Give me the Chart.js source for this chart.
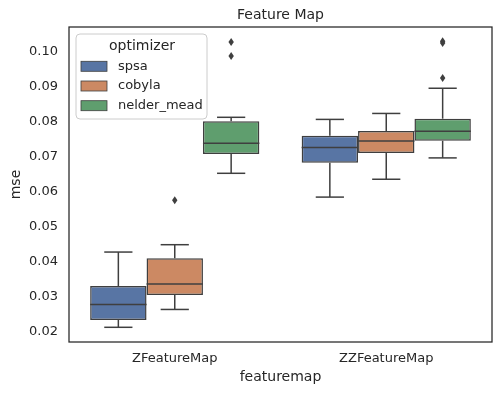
<!DOCTYPE html>
<html>
<head>
<meta charset="utf-8">
<script src="https://cdn.jsdelivr.net/npm/chart.js@4/dist/chart.umd.min.js"></script>
<style>
  html, body { margin: 0; padding: 0; background: #fff; }
  #wrap { width: 500px; height: 395px; }
</style>
</head>
<body>
<div id="wrap"><canvas id="chart" width="500" height="395"></canvas></div>
<script>
const categories = ["ZFeatureMap", "ZZFeatureMap"];
const optimizers = ["spsa", "cobyla", "nelder_mead"];
const colors = ["#5875a4", "#cc8963", "#5f9e6e"];
const yTicks = [0.02, 0.03, 0.04, 0.05, 0.06, 0.07, 0.08, 0.09, 0.10];

// [lower whisker, q1, median, q3, upper whisker] per category
const spsaStats = [[0.0211, 0.0232, 0.0276, 0.0329, 0.0426], [0.0583, 0.0681, 0.0725, 0.0758, 0.0805]];
const cobylaStats = [[0.0262, 0.0303, 0.0335, 0.0408, 0.0447], [0.0634, 0.0709, 0.0743, 0.0772, 0.0822]];
const nelderStats = [[0.0651, 0.0706, 0.0737, 0.0800, 0.0811], [0.0695, 0.0744, 0.0771, 0.0807, 0.0894]];
const spsaOutliers = [[], []];
const cobylaOutliers = [[0.0574], []];
const nelderOutliers = [[0.1026, 0.0986], [0.1028, 0.1023, 0.0923]];

const allStats = [spsaStats, cobylaStats, nelderStats];
const allOutliers = [spsaOutliers, cobylaOutliers, nelderOutliers];
const lineColor = "#3f3f3f";
const font = "DejaVu Sans";

const boxPlugin = {
  id: "boxExtras",
  afterDatasetsDraw(chart) {
    const ctx = chart.ctx;
    const y = chart.scales.y;
    const area = chart.chartArea;
    ctx.save();
    ctx.strokeStyle = lineColor;
    ctx.fillStyle = lineColor;
    ctx.lineWidth = 1.5;
    allStats.forEach((stats, d) => {
      const meta = chart.getDatasetMeta(d);
      meta.data.forEach((bar, i) => {
        const [lo, q1, med, q3, hi] = stats[i];
        const half = bar.width / 2;
        const cap = bar.width / 4;
        const line = (x1, y1, x2, y2) => {
          ctx.beginPath(); ctx.moveTo(x1, y1); ctx.lineTo(x2, y2); ctx.stroke();
        };
        line(bar.x - half, y.getPixelForValue(med), bar.x + half, y.getPixelForValue(med));
        line(bar.x, y.getPixelForValue(q3), bar.x, y.getPixelForValue(hi));
        line(bar.x, y.getPixelForValue(q1), bar.x, y.getPixelForValue(lo));
        line(bar.x - cap, y.getPixelForValue(hi), bar.x + cap, y.getPixelForValue(hi));
        line(bar.x - cap, y.getPixelForValue(lo), bar.x + cap, y.getPixelForValue(lo));
        allOutliers[d][i].forEach(v => {
          const py = y.getPixelForValue(v);
          ctx.beginPath();
          ctx.moveTo(bar.x, py - 4);
          ctx.lineTo(bar.x + 2.7, py);
          ctx.lineTo(bar.x, py + 4);
          ctx.lineTo(bar.x - 2.7, py);
          ctx.closePath();
          ctx.fill();
        });
      });
    });

    // frame
    ctx.strokeStyle = "#262626";
    ctx.lineWidth = 1.25;
    ctx.strokeRect(area.left, area.top, area.right - area.left, area.bottom - area.top);

    // title and axis labels
    ctx.fillStyle = "#262626";
    ctx.textAlign = "center";
    ctx.textBaseline = "middle";
    ctx.font = `14px '${font}'`;
    ctx.fillText("Feature Map", (area.left + area.right) / 2, 15);
    ctx.fillText("featuremap", (area.left + area.right) / 2, 377);
    ctx.save();
    ctx.translate(16, (area.top + area.bottom) / 2);
    ctx.rotate(-Math.PI / 2);
    ctx.fillText("mse", 0, 0);
    ctx.restore();

    // legend
    const lx = 76, ly = 34, lw = 131, lh = 85;
    ctx.beginPath();
    ctx.roundRect(lx, ly, lw, lh, 4);
    ctx.fillStyle = "rgba(255,255,255,0.8)";
    ctx.fill();
    ctx.strokeStyle = "#cccccc";
    ctx.lineWidth = 1;
    ctx.stroke();
    ctx.fillStyle = "#262626";
    ctx.font = `14px '${font}'`;
    ctx.fillText("optimizer", 142, 46);
    ctx.textAlign = "left";
    ctx.font = `13px '${font}'`;
    optimizers.forEach((name, k) => {
      const cy = 66.3 + k * 19.7;
      ctx.fillStyle = colors[k];
      ctx.fillRect(81, cy - 5, 26, 10);
      ctx.strokeStyle = lineColor;
      ctx.lineWidth = 0.8;
      ctx.strokeRect(81, cy - 5, 26, 10);
      ctx.fillStyle = "#262626";
      ctx.fillText(name, 118, cy);
    });
    ctx.restore();
  }
};

new Chart(document.getElementById("chart"), {
  type: "bar",
  data: {
    labels: categories,
    datasets: optimizers.map((name, d) => ({
      label: name,
      data: allStats[d].map(s => [s[1], s[3]]),
      backgroundColor: colors[d],
      borderColor: lineColor,
      borderWidth: 1.5,
      borderSkipped: false,
      categoryPercentage: 0.8,
      barPercentage: 1
    }))
  },
  options: {
    responsive: false,
    animation: false,
    layout: { padding: { top: 27, right: 8, left: 0, bottom: 0 } },
    plugins: { legend: { display: false }, tooltip: { enabled: false }, title: { display: false } },
    scales: {
      x: {
        grid: { display: false, drawTicks: false },
        border: { display: false },
        ticks: { color: "#262626", font: { family: font, size: 13 }, padding: 9 },
        afterFit: s => { s.height = 53; }
      },
      y: {
        min: 0.0169,
        max: 0.1069,
        grid: { display: false, drawTicks: false },
        border: { display: false },
        afterBuildTicks: s => { s.ticks = yTicks.map(v => ({ value: v })); },
        ticks: {
          color: "#262626",
          font: { family: font, size: 13 },
          padding: 11,
          callback: v => v.toFixed(2)
        },
        afterFit: s => { s.width = 69; }
      }
    }
  },
  plugins: [boxPlugin]
});
</script>
</body>
</html>
